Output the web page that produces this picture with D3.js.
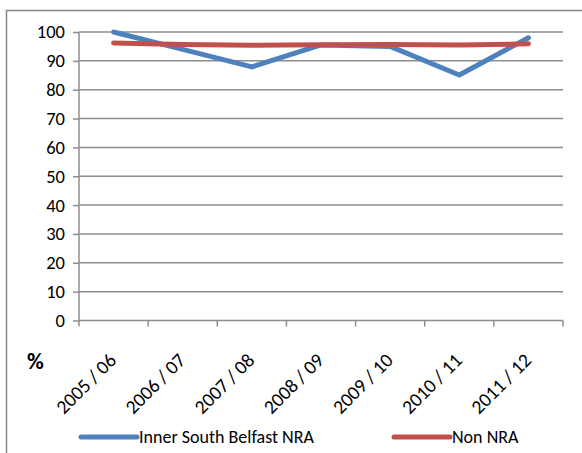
<!DOCTYPE html>
<html><head><meta charset="utf-8">
<script src="https://cdn.jsdelivr.net/npm/d3@7"></script>
<style>body{margin:0;background:#fff}svg{display:block}</style>
</head><body><svg id="c" width="582" height="453"></svg>
<script>
const categories = ["2005 / 06","2006 / 07","2007 / 08","2008 / 09","2009 / 10","2010 / 11","2011 / 12"];
const innerSouth = [100, 94, 87.9, 95.5, 95, 85.1, 98];
const nonNRA = [96.2, 95.7, 95.4, 95.6, 95.7, 95.5, 95.9];
const seriesNames = ["Inner South Belfast NRA", "Non NRA"];
const seriesColors = ["#4F81BD", "#C0504D"];
const yTicks = [0,10,20,30,40,50,60,70,80,90,100];

(function(){
const svg = d3.select("#c");
const font = "Carlito, Lato, 'Liberation Sans', sans-serif";
svg.append("rect").attr("x",6.5).attr("y",10.5).attr("width",700).attr("height",600)
  .attr("fill","#fff").attr("stroke","#868686").attr("stroke-width",1.5);

const pl = 79, pr = 563, pt = 32, pb = 320.5;
const x = d3.scaleBand().domain(categories).range([pl, pr]);
const y = d3.scaleLinear().domain([0,100]).range([pb, pt]);

svg.append("g").selectAll("line").data(yTicks.filter(d=>d>0)).join("line")
  .attr("x1",pl).attr("x2",pr).attr("y1",d=>y(d)).attr("y2",d=>y(d))
  .attr("stroke","#8c8c8c").attr("stroke-width",1.5);

const yAxis = svg.append("g").attr("transform",`translate(${pl},0)`)
  .call(d3.axisLeft(y).tickValues(yTicks).tickSize(6).tickPadding(8));
yAxis.select(".domain").attr("stroke","#8c8c8c").attr("stroke-width",1.5).attr("d",`M0,${pt}V${pb}`);
yAxis.selectAll(".tick line").attr("stroke","#8c8c8c").attr("stroke-width",1.5);
yAxis.selectAll("text").attr("font-family",font).attr("font-size",18.5).attr("fill","#000");

const xAxis = svg.append("g").attr("transform",`translate(0,${pb})`)
  .call(d3.axisBottom(x).tickSize(0).tickFormat(""));
xAxis.select(".domain").attr("stroke","#8c8c8c").attr("stroke-width",1.5).attr("d",`M${pl},0H${pr}`);
const boundaries = categories.map(c=>x(c)).concat([pr]);
xAxis.selectAll(".bt").data(boundaries).join("line").attr("class","bt")
  .attr("x1",d=>d).attr("x2",d=>d).attr("y1",0).attr("y2",6)
  .attr("stroke","#8c8c8c").attr("stroke-width",1.5);

svg.append("g").selectAll("text").data(categories).join("text")
  .attr("transform",d=>`translate(${x(d)+x.bandwidth()/2+4},${pb+41}) rotate(-45)`)
  .attr("text-anchor","end")
  .attr("font-family",font).attr("font-size",19.5).attr("fill","#000").text(d=>d);

svg.append("text").attr("x",27).attr("y",369).attr("font-family",font)
  .attr("font-size",23).attr("font-weight","bold").text("%");

const line = d3.line().x((d,i)=>x(categories[i])+x.bandwidth()/2).y(d=>y(d));
[innerSouth, nonNRA].forEach((s,i)=>{
  svg.append("path").datum(s).attr("d",line).attr("fill","none")
    .attr("stroke",seriesColors[i]).attr("stroke-width",5).attr("stroke-linecap","round").attr("stroke-linejoin","round");
});
const legX = [81, 394];
seriesNames.forEach((n,i)=>{
  svg.append("line").attr("x1",legX[i]).attr("x2",legX[i]+56).attr("y1",437).attr("y2",437)
    .attr("stroke",seriesColors[i]).attr("stroke-width",5).attr("stroke-linecap","round");
  svg.append("text").attr("x",legX[i]+58).attr("y",443).attr("font-family",font)
    .attr("font-size",18).attr("fill","#000").text(n);
});
})();
</script></body></html>
